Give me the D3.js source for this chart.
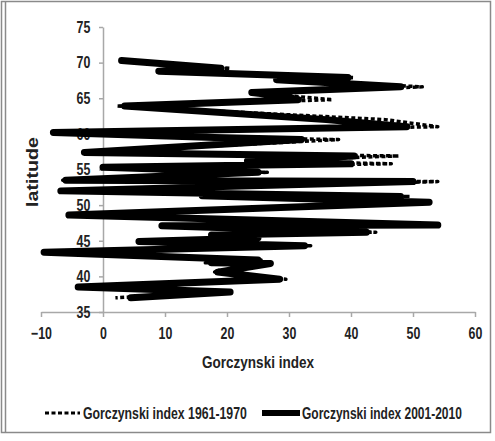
<!DOCTYPE html>
<html>
<head>
<meta charset="utf-8">
<script src="https://cdn.jsdelivr.net/npm/d3@7"></script>
<style>
  body { margin: 0; background: #fff; }
  text { font-family: "Liberation Sans", Arial, sans-serif; fill: #222; font-weight: bold; }
</style>
</head>
<body>
<div id="chart"></div>
<script>
var w = 495;
var h = 441;

// stations, in the order the series were plotted
var latitude = [70.3, 69.2, 68.8, 67.9, 67.6, 66.6, 65.8, 65.3, 64.8, 63.9,
                62.0, 61.0, 60.2, 59.5, 59.2, 57.4, 56.9, 56.2, 55.8, 55.3,
                54.6, 53.5, 53.3, 52.0, 51.2, 51.3, 50.4, 48.6, 47.2, 47.1,
                46.2, 45.8, 45.4, 44.9, 44.3, 43.4, 42.3, 41.9, 41.8, 40.6,
                39.6, 38.5, 37.8, 37.0];
var index1961 = [3, 20.5, 9, 40.5, 28, 51.5, 24, 30.5, 37, 2.3,
                 45.5, 54, -8, 18, 38, -3, 47.7, 23.3, 46.5, 0,
                 26.5, -6.5, 54, -6.8, 49.5, 16, 52.6, -5.5, 54, 9,
                 44, 17.5, 25, 5.8, 33.5, -9.5, 25.5, 16.5, 27, 18,
                 29.5, -4, 20.5, 2];
var index2001 = [3, 19, 9, 39.5, 28, 48, 24, 29, 31.5, 3.5,
                 36, 49, -8, 18, 32, -3, 40.5, 23.3, 40, 0,
                 25, -6, 50, -6.8, 48, 16, 52.6, -5.5, 54, 9.5,
                 42.5, 17.5, 25, 5.8, 32.5, -9.5, 25, 17.5, 27, 18.5,
                 28.5, -4, 20.5, 4.5];
var xTicks = [-10, 0, 10, 20, 30, 40, 50, 60];
var yTicks = [35, 40, 45, 50, 55, 60, 65, 70, 75];
var seriesNames = ["Gorczynski index 1961-1970", "Gorczynski index 2001-2010"];

var svg = d3.select("#chart")
            .append("svg")
            .attr("width", w)
            .attr("height", h);

// no narrow font installed: squeeze a text horizontally to a given width
var narrowText = function(parent, str, px, py, size, width, anchor, rot) {
   var g = parent.append("g")
                 .attr("transform", "translate(" + px + "," + py + ")" + (rot ? " rotate(" + rot + ")" : ""));
   var t = g.append("text")
            .style("font-size", size + "px")
            .attr("text-anchor", anchor || "start")
            .text(str);
   var f = width / t.node().getComputedTextLength();
   t.attr("transform", "scale(" + f + ",1)");
   return t;
}

// picture frame
svg.append("rect")
   .attr("x", 1.5).attr("y", 1.5)
   .attr("width", 489).attr("height", 431)
   .attr("fill", "none")
   .attr("stroke", "#8a8a8a")
   .attr("stroke-width", 1.5);
svg.append("line")
   .attr("x1", 5.5).attr("x2", 5.5)
   .attr("y1", 1.5).attr("y2", 432.5)
   .attr("stroke", "#8a8a8a")
   .attr("stroke-width", 1.5);

var x = d3.scaleLinear().domain([-10, 60]).range([41, 475]);
var y = d3.scaleLinear().domain([35, 75]).range([312, 27]);

// axes cross at x = 0 and y = 35
var xAxis = svg.append("g")
               .attr("transform", "translate(0," + y(35) + ")")
               .call(d3.axisBottom(x).tickValues(xTicks).tickSize(5).tickPadding(10).tickSizeOuter(0));
var yAxis = svg.append("g")
               .attr("transform", "translate(" + x(0) + ",0)")
               .call(d3.axisLeft(y).tickValues(yTicks).tickSize(4).tickPadding(13).tickSizeOuter(0));

[xAxis, yAxis].forEach(function(a) {
   a.select(".domain").attr("stroke", "#a8a8a8").attr("stroke-width", 1.5);
   a.selectAll(".tick line").attr("stroke", "#a8a8a8").attr("stroke-width", 1.5);
   a.selectAll(".tick text")
    .attr("fill", "#222")
    .attr("transform", "scale(0.75,1)")
    .style("font-size", "16.5px")
    .style("font-weight", "bold")
    .style("font-family", "\"Liberation Sans\", Arial, sans-serif");
});

var line = d3.line()
             .x(function(d) { return x(d[0]); })
             .y(function(d) { return y(d[1]); });

var old = d3.zip(index1961, latitude);
var recent = d3.zip(index2001, latitude);

svg.append("path")
   .attr("d", line(old))
   .attr("fill", "none")
   .attr("stroke", "#000")
   .attr("stroke-width", 3.5)
   .attr("stroke-dasharray", "4,2.5")
   .attr("stroke-linejoin", "round")
   .attr("id", "old");

svg.append("path")
   .attr("d", line(recent))
   .attr("fill", "none")
   .attr("stroke", "#000")
   .attr("stroke-width", 7)
   .attr("stroke-linejoin", "round")
   .attr("stroke-linecap", "round")
   .attr("id", "recent");

// axis titles
narrowText(svg, "Gorczynski index", 258, 368, 17, 112, "middle");
narrowText(svg, "latitude", 38, 172, 17, 70, "middle", -90);

// legend
var legend = svg.append("g");
legend.append("line")
      .attr("x1", 45).attr("x2", 80)
      .attr("y1", 413).attr("y2", 413)
      .attr("stroke", "#000")
      .attr("stroke-width", 3)
      .attr("stroke-dasharray", "4,2.5");
narrowText(legend, seriesNames[0], 83, 419, 16, 164);
legend.append("line")
      .attr("x1", 262).attr("x2", 300)
      .attr("y1", 413).attr("y2", 413)
      .attr("stroke", "#000")
      .attr("stroke-width", 6);
narrowText(legend, seriesNames[1], 302, 419, 16, 160);
</script>
</body>
</html>
